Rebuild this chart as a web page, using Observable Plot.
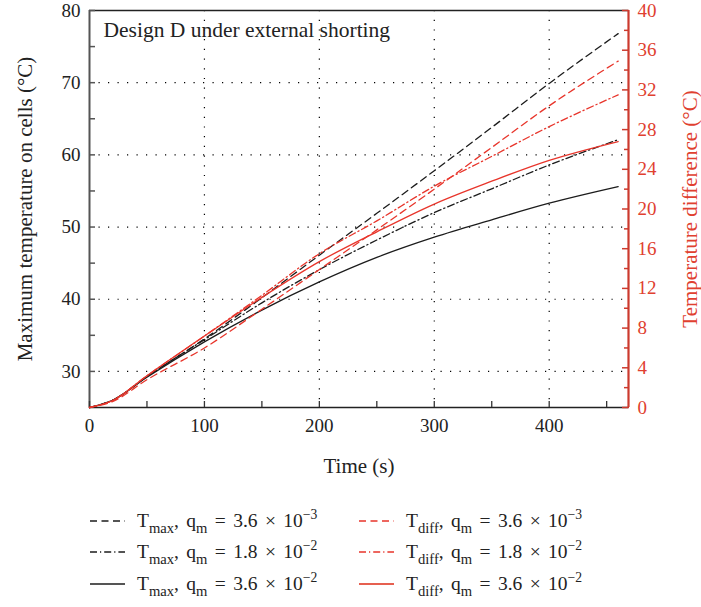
<!DOCTYPE html>
<html>
<head>
<meta charset="utf-8">
<script src="https://cdn.jsdelivr.net/npm/d3@7"></script>
<script src="https://cdn.jsdelivr.net/npm/@observablehq/plot@0.6"></script>
<style>
  html, body { margin: 0; padding: 0; background: #fff; }
  #wrap { position: relative; width: 701px; height: 607px; font-family: "Liberation Serif", "DejaVu Serif", serif; }
  .leg { position: absolute; display: flex; align-items: center; font-size: 19.5px; color: #222; white-space: nowrap; word-spacing: 2.5px; }
  .leg svg { margin-right: 12px; }
  .leg sub { font-size: 0.75em; vertical-align: -0.4em; line-height: 0; }
  .leg sup { font-size: 0.7em; vertical-align: 0.6em; line-height: 0; }
</style>
</head>
<body>
<div id="wrap"></div>
<script>
// ---- data ----
const time = [0, 20, 50, 100, 150, 200, 250, 300, 350, 400, 460];
// Maximum temperature on cells (°C), left axis
const tmax_q36e3 = [25, 26.0, 29.3, 34.5, 40.2, 46.1, 51.9, 57.8, 63.8, 69.9, 76.8];
const tmax_q18e2 = [25, 26.0, 29.3, 34.4, 39.5, 44.1, 48.2, 52.0, 55.3, 58.6, 62.1];
const tmax_q36e2 = [25, 26.0, 29.2, 34.1, 38.5, 42.4, 45.8, 48.6, 51.0, 53.3, 55.6];
// Temperature difference (°C), right axis
const tdiff_q36e3 = [0, 0.6, 2.8, 6.0, 9.9, 13.9, 17.9, 22.0, 26.2, 30.4, 34.9];
const tdiff_q18e2 = [0, 0.7, 3.2, 7.2, 11.3, 15.5, 18.8, 22.3, 25.3, 28.3, 31.5];
const tdiff_q36e2 = [0, 0.7, 3.2, 7.2, 11.1, 14.7, 17.7, 20.5, 22.8, 24.9, 26.8];

const xTicks = [0, 100, 200, 300, 400];
const xMinor = [50, 150, 250, 350, 450];
const yLeftTicks = [30, 40, 50, 60, 70, 80];
const yLeftMinor = [35, 45, 55, 65, 75];
const yRightTicks = [0, 4, 8, 12, 16, 20, 24, 28, 32, 36, 40];
const yRightMinor = [2, 6, 10, 14, 18, 22, 26, 30, 34, 38];

const leftDomain = [25, 80];
const rightDomain = [0, 40];
const xDomain = [0, 469];

// map right-axis values onto the left scale
const toLeft = v => leftDomain[0] + (v - rightDomain[0]) * (leftDomain[1] - leftDomain[0]) / (rightDomain[1] - rightDomain[0]);
const toRight = y => rightDomain[0] + (y - leftDomain[0]) * (rightDomain[1] - rightDomain[0]) / (leftDomain[1] - leftDomain[0]);

const BLACK = "#1c1c1c", RED = "#e8352b", RED_AXIS = "#cc3a2e", RED_TEXT = "#e0402f";
const DASH = "7,4.5", DASHDOT = "7,3,1.2,3";

const series = [
  {vals: tmax_q36e3, right: false, color: BLACK, dash: DASH},
  {vals: tmax_q18e2, right: false, color: BLACK, dash: DASHDOT},
  {vals: tmax_q36e2, right: false, color: BLACK, dash: null},
  {vals: tdiff_q36e3, right: true, color: RED, dash: DASH},
  {vals: tdiff_q18e2, right: true, color: RED, dash: DASHDOT},
  {vals: tdiff_q36e2, right: true, color: RED, dash: null}
];

const lineMarks = series.map(s => Plot.line(
  time.map((t, i) => ({t, y: s.right ? toLeft(s.vals[i]) : s.vals[i]})),
  {x: "t", y: "y", stroke: s.color, strokeWidth: 1.3, strokeDasharray: s.dash, curve: "monotone-x"}
));

const font = "'Liberation Serif', 'DejaVu Serif', serif";

const chart = Plot.plot({
  width: 701,
  height: 490,
  marginLeft: 89,
  marginRight: 73,
  marginTop: 10,
  marginBottom: 83,
  style: {fontFamily: font, fontSize: "19px", color: "#222", background: "white"},
  x: {domain: xDomain},
  y: {domain: leftDomain},
  marks: [
    // dotted grid
    Plot.gridX(xTicks.slice(1), {stroke: "#000", strokeOpacity: 1, strokeWidth: 1.2, strokeDasharray: "1.2,8.5"}),
    Plot.gridY(yLeftTicks.slice(0, -1), {stroke: "#000", strokeOpacity: 1, strokeWidth: 1.2, strokeDasharray: "1.2,8.3"}),
    // frame lines
    Plot.ruleY([leftDomain[1]], {stroke: "#222", strokeWidth: 1.3}),
    Plot.ruleY([leftDomain[0]], {stroke: "#222", strokeWidth: 1.5}),
    Plot.ruleX([xDomain[0]], {stroke: "#555", strokeWidth: 2}),
    // x axis: inward ticks + labels
    Plot.axisX(xTicks, {tickSize: 6, dy: -6, text: null, label: null, stroke: "#333", strokeWidth: 1.3}),
    Plot.axisX(xMinor, {tickSize: 6, dy: -6, text: null, label: null, stroke: "#333", strokeWidth: 1.3}),
    Plot.axisX(xTicks, {tickSize: 0, tickPadding: 11, label: null, fill: "#222"}),
    // left axis
    Plot.axisY(yLeftTicks, {tickSize: 6, dx: 6, text: null, label: null, stroke: "#555", strokeWidth: 1.5}),
    Plot.axisY(yLeftMinor, {tickSize: 6, dx: 6, text: null, label: null, stroke: "#555", strokeWidth: 1.5}),
    Plot.axisY(yLeftTicks, {tickSize: 0, tickPadding: 9, label: null, fill: "#222"}),
    // right axis (temperature difference)
    Plot.axisY(yRightTicks.map(toLeft), {anchor: "right", tickSize: 7, dx: -7, text: null, label: null, stroke: RED_AXIS, strokeWidth: 1.5}),
    Plot.axisY(yRightMinor.map(toLeft), {anchor: "right", tickSize: 5, dx: -5, text: null, label: null, stroke: RED_AXIS, strokeWidth: 1.5}),
    Plot.axisY(yRightTicks.map(toLeft), {anchor: "right", tickSize: 0, tickPadding: 9, label: null, fill: RED_TEXT,
      tickFormat: d => String(Math.round(toRight(d)))}),
    Plot.ruleX([xDomain[1]], {stroke: RED_AXIS, strokeWidth: 2.2}),
    // curves
    ...lineMarks,
    // texts
    Plot.text(["Design D under external shorting"], {frameAnchor: "top-left", dx: 14, dy: 20, lineAnchor: "middle", textAnchor: "start", fontSize: 21.5, fill: "#222"}),
    Plot.text(["Maximum temperature on cells (°C)"], {frameAnchor: "left", rotate: -90, dx: -64, textAnchor: "middle", lineAnchor: "middle", fontSize: 21, fill: "#222"}),
    Plot.text(["Temperature difference (°C)"], {frameAnchor: "right", rotate: -90, dx: 62, textAnchor: "middle", lineAnchor: "middle", fontSize: 21, fill: RED_TEXT}),
    Plot.text(["Time (s)"], {frameAnchor: "bottom", dy: 59, textAnchor: "middle", lineAnchor: "middle", fontSize: 21, fill: "#222"})
  ]
});

const wrap = document.getElementById("wrap");
wrap.appendChild(chart);

// ---- legend ----
const legendItems = [
  {col: 0, row: 0, color: BLACK, dash: DASH, sub: "max", exp: "3.6", pow: "−3"},
  {col: 0, row: 1, color: BLACK, dash: DASHDOT, sub: "max", exp: "1.8", pow: "−2"},
  {col: 0, row: 2, color: "#555", dash: null, sub: "max", exp: "3.6", pow: "−2"},
  {col: 1, row: 0, color: RED, dash: DASH, sub: "diff", exp: "3.6", pow: "−3"},
  {col: 1, row: 1, color: RED, dash: DASHDOT, sub: "diff", exp: "1.8", pow: "−2"},
  {col: 1, row: 2, color: "#e66050", dash: null, sub: "diff", exp: "3.6", pow: "−2"}
];
const colX = [90, 359];
const rowY = [521, 552, 584];
for (const it of legendItems) {
  const d = document.createElement("div");
  d.className = "leg";
  d.style.left = colX[it.col] + "px";
  d.style.top = (rowY[it.row] - 12) + "px";
  d.style.height = "24px";
  d.innerHTML =
    `<svg width="35" height="10"><line x1="0" y1="5" x2="35" y2="5" stroke="${it.color}" stroke-width="${it.dash ? 1.3 : 2}" ${it.dash ? `stroke-dasharray="${it.dash}"` : ""}/></svg>` +
    `<span>T<sub>${it.sub}</sub>, q<sub>m</sub> = ${it.exp} × 10<sup>${it.pow}</sup></span>`;
  wrap.appendChild(d);
}
</script>
</body>
</html>
